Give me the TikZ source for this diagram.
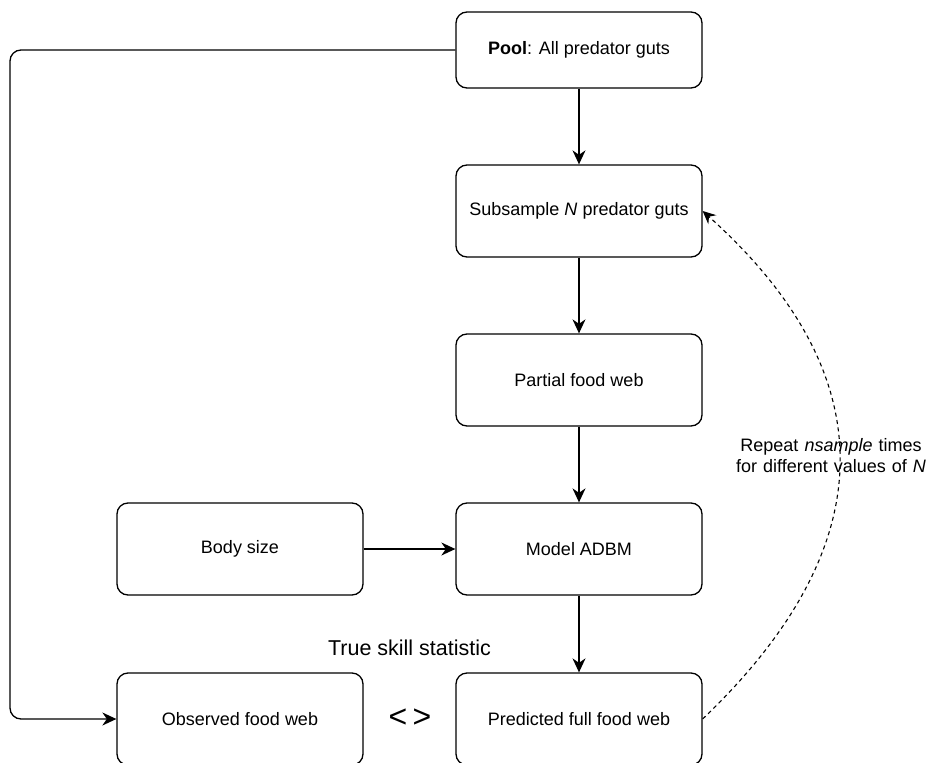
\documentclass[tikz,border=0pt]{standalone}
\usepackage{fontspec}
\setmainfont{Liberation Sans}
\usetikzlibrary{arrows.meta}
\begin{document}
\begin{tikzpicture}[x=1pt,y=-1pt,
  box/.style={draw, line width=1.3pt, rounded corners=11pt, minimum width=246pt, minimum height=92pt, inner sep=0pt, font=\fontsize{18}{21}\selectfont},
  arr/.style={line width=1.3pt, -{Stealth[length=14pt,width=13pt,inset=4.5pt]}},
  lbl/.style={font=\fontsize{18}{21}\selectfont, align=center, inner sep=0pt}]
\useasboundingbox (0,0) rectangle (930,763);
\node[box, minimum height=76pt] (pool) at (579,50) {\textbf{Pool}: All predator guts};
\node[box] (sub) at (579,211) {Subsample \textit{N} predator guts};
\node[box] (part) at (579,380) {Partial food web};
\node[box] (model) at (579,549) {Model ADBM};
\node[box] (pred) at (579,719) {Predicted full food web};
\node[box] (body) at (240,549) {Body size};
\node[box] (obs) at (240,719) {Observed food web};
\node[lbl, font=\fontsize{21.5}{24}\selectfont] (tss) at (409.5,648) {True skill statistic};
\node[lbl, font=\fontsize{32}{34}\selectfont] (cmp) at (410,718) {<\,>};
\node[lbl, text width=210pt] (rep) at (831,456) {\baselineskip=19pt Repeat \textit{nsample} times\\ for different values of \textit{N}};
\draw[arr] (pool) -- (sub);
\draw[arr] (sub) -- (part);
\draw[arr] (part) -- (model);
\draw[arr] (model) -- (pred);
\draw[arr] (body) -- (model);
\coordinate (c1) at (10,50);
\coordinate (c2) at (10,719);
\draw[arr, rounded corners=11pt] (pool.west) -- (c1) -- (c2) -- (obs.west);
\draw[line width=1.1pt, dash pattern=on 4pt off 3.5pt, -{Stealth[length=13pt,width=12pt,inset=4.5pt]}]
  (pred.east) .. controls (890,540) and (880,370) .. (sub.east);
\end{tikzpicture}
\end{document}
